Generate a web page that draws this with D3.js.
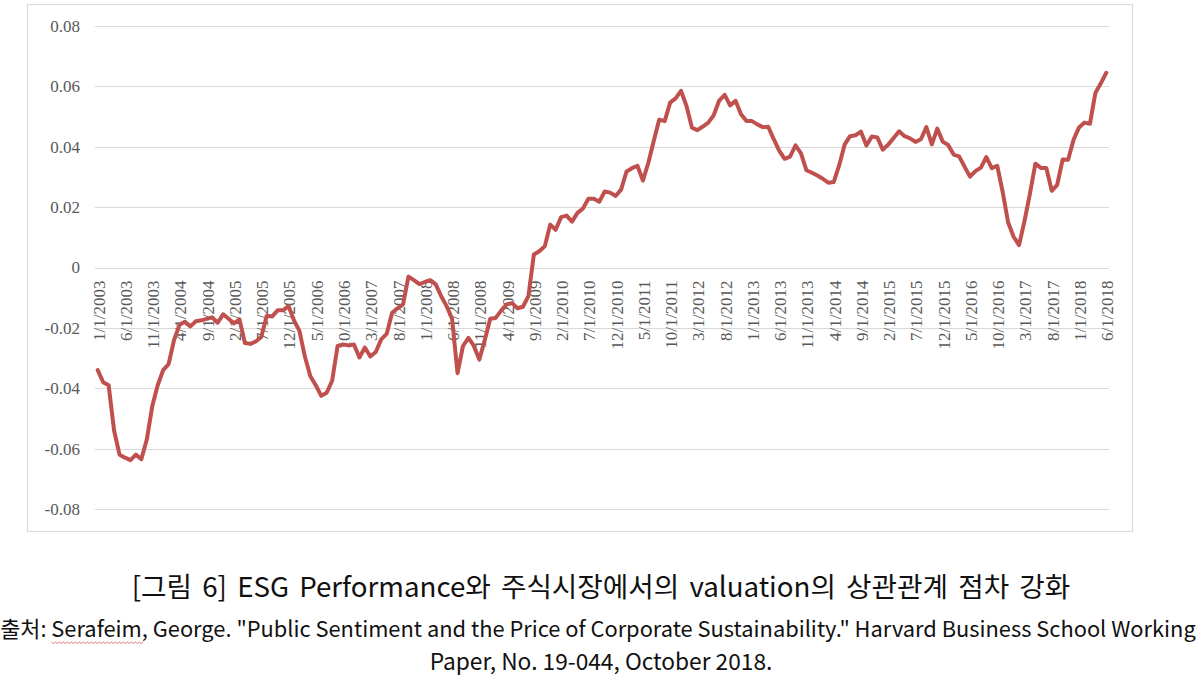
<!DOCTYPE html>
<html>
<head>
<meta charset="utf-8">
<script src="https://cdn.jsdelivr.net/npm/d3@7"></script>
<style>
  html, body { margin: 0; padding: 0; background: #fff; }
  svg { display: block; }
  .serif text { font-family: "Liberation Serif", "DejaVu Serif", serif; }
</style>
</head>
<body>
<svg id="chart" width="1200" height="676"></svg>
<script>
// ---- Data ----
const startMonth = "2003-01";
const values = [
  -0.034, -0.038, -0.039, -0.054, -0.062, -0.063, -0.0638, -0.062, -0.0635, -0.057,
  -0.046, -0.039, -0.034, -0.032, -0.024, -0.019, -0.018, -0.0195, -0.0178, -0.0175,
  -0.017, -0.0165, -0.0183, -0.0155, -0.017, -0.0185, -0.0172, -0.025, -0.0253, -0.0245,
  -0.023, -0.016, -0.0162, -0.0142, -0.0142, -0.0128, -0.0175, -0.021, -0.0295, -0.036,
  -0.039, -0.0425, -0.0415, -0.0375, -0.026, -0.0255, -0.0258, -0.0255, -0.0298, -0.0265,
  -0.0295, -0.028, -0.0238, -0.022, -0.015, -0.0135, -0.0122, -0.003, -0.0042, -0.0055,
  -0.0048, -0.0042, -0.0056, -0.0095, -0.0128, -0.017, -0.035, -0.026, -0.0233, -0.026,
  -0.0305, -0.024, -0.017, -0.0167, -0.0143, -0.0122, -0.0118, -0.0135, -0.013, -0.0095,
  0.0043, 0.0054, 0.007, 0.0142, 0.0125, 0.0167, 0.0172, 0.0152, 0.0181, 0.0195,
  0.0228, 0.0228, 0.0218, 0.0252, 0.0248, 0.0237, 0.0258, 0.0318, 0.0329, 0.0337,
  0.0288, 0.0347, 0.042, 0.049, 0.0485, 0.0546, 0.056, 0.0585, 0.0535, 0.0463,
  0.0455, 0.0467, 0.048, 0.0505, 0.0553, 0.0572, 0.0537, 0.0552, 0.0508, 0.0485,
  0.0485, 0.0474, 0.0465, 0.0466, 0.0425, 0.0387, 0.036, 0.0367, 0.0405, 0.0378,
  0.0322, 0.0314, 0.0305, 0.0294, 0.0281, 0.0283, 0.0338, 0.0407, 0.0435, 0.0438,
  0.045, 0.0404, 0.0434, 0.0431, 0.039, 0.0407, 0.0429, 0.0451, 0.0435, 0.0428,
  0.0416, 0.0425, 0.0465, 0.0408, 0.046, 0.0417, 0.0406, 0.0374, 0.0368, 0.0334,
  0.0301, 0.0319, 0.0331, 0.0366, 0.0329, 0.0337, 0.025, 0.0149, 0.0102, 0.0074,
  0.0154, 0.0245, 0.0344, 0.033, 0.033, 0.0254, 0.0274, 0.0358, 0.0357, 0.0423,
  0.0464, 0.048, 0.0476, 0.0578, 0.061, 0.0645
];
const yTicks = [0.08, 0.06, 0.04, 0.02, 0, -0.02, -0.04, -0.06, -0.08];
const yTickLabels = ["0.08", "0.06", "0.04", "0.02", "0", "-0.02", "-0.04", "-0.06", "-0.08"];
const xTickLabels = [
  "1/1/2003", "6/1/2003", "11/1/2003", "4/1/2004", "9/1/2004", "2/1/2005", "7/1/2005",
  "12/1/2005", "5/1/2006", "10/1/2006", "3/1/2007", "8/1/2007", "1/1/2008", "6/1/2008",
  "11/1/2008", "4/1/2009", "9/1/2009", "2/1/2010", "7/1/2010", "12/1/2010", "5/1/2011",
  "10/1/2011", "3/1/2012", "8/1/2012", "1/1/2013", "6/1/2013", "11/1/2013", "4/1/2014",
  "9/1/2014", "2/1/2015", "7/1/2015", "12/1/2015", "5/1/2016", "10/1/2016", "3/1/2017",
  "8/1/2017", "1/1/2018", "6/1/2018"
];
const captionTitle = "[그림 6] ESG Performance와 주식시장에서의 valuation의 상관관계 점차 강화";
const sourcePrefix = "출처: ";
const sourceAuthor = "Serafeim";
const sourceRest = ", George. \"Public Sentiment and the Price of Corporate Sustainability.\" Harvard Business School Working";
const sourceLine2 = "Paper, No. 19-044, October 2018.";

// categories: month labels M/1/YYYY
const [sy, sm] = startMonth.split("-").map(Number);
const categories = values.map((_, i) => {
  const m = (sm - 1 + i) % 12 + 1;
  const y = sy + Math.floor((sm - 1 + i) / 12);
  return m + "/1/" + y;
});

// ---- Layout ----
const svg = d3.select("#chart");
const plot = { left: 95, right: 1109, top: 26, bottom: 509 };
const gray = "#595959";
const gridColor = "#d9d9d9";
const sans = "'Noto Sans CJK KR', 'Noto Sans', sans-serif";

// outer chart border
svg.append("rect")
  .attr("x", 27.5).attr("y", 4.5)
  .attr("width", 1105).attr("height", 527)
  .attr("fill", "#fff").attr("stroke", gridColor).attr("stroke-width", 1);

const x = d3.scaleBand().domain(categories).range([plot.left, plot.right]).padding(0);
const xc = d => x(d) + x.bandwidth() / 2;
const y = d3.scaleLinear().domain([-0.08, 0.08]).range([plot.bottom, plot.top]);

// gridlines
svg.append("g").selectAll("line").data(yTicks).join("line")
  .attr("x1", plot.left).attr("x2", plot.right)
  .attr("y1", d => Math.round(y(d)) + 0.5).attr("y2", d => Math.round(y(d)) + 0.5)
  .attr("stroke", gridColor).attr("stroke-width", 1);

// y-axis labels
const yAxis = d3.axisLeft(y).tickValues(yTicks)
  .tickFormat((d, i) => yTickLabels[i]).tickSize(0).tickPadding(0);
const gy = svg.append("g").attr("class", "serif").attr("transform", `translate(80,0)`).call(yAxis);
gy.attr("font-family", null);
gy.select(".domain").remove();
gy.selectAll("text").style("font-size", "17px").attr("fill", gray);

// x-axis labels (at zero line, rotated)
const xAxis = d3.axisBottom(x).tickValues(xTickLabels).tickSize(0).tickPadding(0);
const gx = svg.append("g").attr("class", "serif").attr("transform", `translate(0,${y(0)})`).call(xAxis);
gx.attr("font-family", null);
gx.select(".domain").remove();
gx.selectAll(".tick text")
  .style("font-size", "17px").attr("fill", gray)
  .attr("text-anchor", "end")
  .attr("transform", "translate(1,13) rotate(-90)")
  .attr("x", 0).attr("y", 0).attr("dy", "0.35em");

// line
const line = d3.line().x((d, i) => xc(categories[i])).y(d => y(d));
svg.append("path").datum(values)
  .attr("d", line)
  .attr("fill", "none").attr("stroke", "#C0504D")
  .attr("stroke-width", 4).attr("stroke-linejoin", "round").attr("stroke-linecap", "round");

// captions
function fitText(sel, targetWidth) {
  const w = sel.node().getComputedTextLength();
  const fs = parseFloat(sel.attr("font-size"));
  sel.attr("font-size", fs * targetWidth / w);
}
const t1 = svg.append("text").attr("x", 601).attr("y", 597)
  .attr("text-anchor", "middle").attr("font-family", sans).attr("font-size", 22)
  .attr("fill", "#111").attr("word-spacing", "4px").text(captionTitle);
fitText(t1, 947);

const t2 = svg.append("text").attr("x", 598).attr("y", 637)
  .attr("text-anchor", "middle").attr("font-family", sans).attr("font-size", 19)
  .attr("fill", "#111");
t2.append("tspan").text(sourcePrefix);
t2.append("tspan").attr("class", "author").text(sourceAuthor);
t2.append("tspan").text(sourceRest);
fitText(t2, 1196);

const t3 = svg.append("text").attr("x", 601).attr("y", 670)
  .attr("text-anchor", "middle").attr("font-family", sans).attr("font-size", 19)
  .attr("fill", "#111").text(sourceLine2);
fitText(t3, 343);

// spell-check wavy underline under author name
const node = t2.node();
const startIdx = sourcePrefix.length;
const p0 = node.getStartPositionOfChar(startIdx);
const p1 = node.getEndPositionOfChar(startIdx + sourceAuthor.length - 1);
const wy = p0.y + 5;
let d = `M${p0.x},${wy}`;
for (let xx = p0.x, k = 0; xx < p1.x; xx += 2, k++) {
  d += ` L${xx + 2},${wy + (k % 2 === 0 ? 1.5 : 0)}`;
}
svg.append("path").attr("d", d).attr("fill", "none")
  .attr("stroke", "#e05a5a").attr("stroke-width", 0.8);
</script>
</body>
</html>
